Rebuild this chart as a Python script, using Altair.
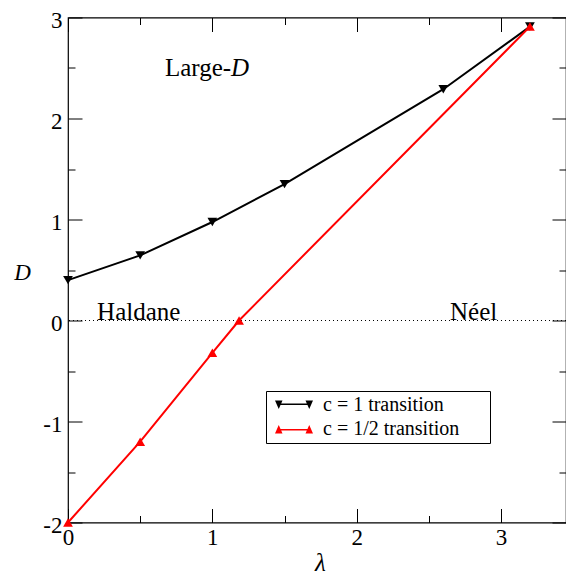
import altair as alt
import pandas as pd

# ---- data ----
c1_lambda = [0.0, 0.5, 1.0, 1.5, 2.6, 3.2]
c1_D = [0.40, 0.645, 0.975, 1.35, 2.29, 2.91]
c12_lambda = [0.0, 0.5, 1.0, 1.185, 3.2]
c12_D = [-2.0, -1.2, -0.32, 0.0, 2.91]
series_names = ["c = 1 transition", "c = 1/2 transition"]
series_colors = ["black", "red"]
zero_line = [0.0]

x_major = [0, 1, 2, 3]
x_minor = [0.5, 1.5, 2.5]
y_major = [-2, -1, 0, 1, 2, 3]
y_minor = [-1.5, -0.5, 0.5, 1.5, 2.5]

ann_right_text = ["Large-"]
ann_right_x = [1.13]
ann_right_y = [2.42]
ann_italic_text = ["D"]
ann_italic_x = [1.13]
ann_italic_y = [2.42]
ann_center_text = ["Haldane", "Néel"]
ann_center_x = [0.49, 2.81]
ann_center_y = [0.005, 0.005]

df = pd.concat([
    pd.DataFrame({"lam": c1_lambda, "D": c1_D, "series": series_names[0]}),
    pd.DataFrame({"lam": c12_lambda, "D": c12_D, "series": series_names[1]}),
], ignore_index=True)
df_zero = pd.DataFrame({"D": zero_line})
df_r = pd.DataFrame({"lam": ann_right_x, "D": ann_right_y, "t": ann_right_text})
df_i = pd.DataFrame({"lam": ann_italic_x, "D": ann_italic_y, "t": ann_italic_text})
df_c = pd.DataFrame({"lam": ann_center_x, "D": ann_center_y, "t": ann_center_text})

FONT = "Liberation Serif"
xscale = alt.Scale(domain=[0, 3.45], nice=False, zero=False)
yscale = alt.Scale(domain=[-2, 3], nice=False, zero=False)
cscale = alt.Scale(domain=series_names, range=series_colors)

common = dict(grid=False, domain=False, tickColor="black", tickWidth=1,
              labelColor="black", labelFont=FONT, labelFontSize=23,
              labelFlush=False, labelOverlap=False,
              labelExpr="'' + datum.value")

ax_b_major = alt.Axis(orient="bottom", values=x_major, offset=-14, tickSize=14,
                      labelPadding=4, title="λ", titleFont=FONT,
                      titleFontStyle="italic", titleFontWeight="normal",
                      titleFontSize=25, titleColor="black",
                      titleX=252, titleY=62, titleAlign="center",
                      titleBaseline="alphabetic", **common)
ax_l_major = alt.Axis(orient="left", values=y_major, offset=-14, tickSize=14,
                      labelPadding=6, labelOffset=2.5, title="D", titleFont=FONT,
                      titleFontStyle="italic", titleFontWeight="normal",
                      titleFontSize=23, titleColor="black", titleAngle=0,
                      titleX=-60, titleY=261.5, titleAlign="center",
                      titleBaseline="alphabetic", **common)
minor_common = dict(grid=False, domain=False, tickColor="black", tickWidth=1,
                    labels=False, title=None)
ax_t_major = alt.Axis(orient="top", values=x_major, offset=-14, tickSize=14, **minor_common)
ax_r_major = alt.Axis(orient="right", values=y_major, offset=-14, tickSize=14, **minor_common)
ax_b_minor = alt.Axis(orient="bottom", values=x_minor, offset=-7, tickSize=7, **minor_common)
ax_l_minor = alt.Axis(orient="left", values=y_minor, offset=-7, tickSize=7, **minor_common)
ax_t_minor = alt.Axis(orient="top", values=x_minor, offset=-7, tickSize=7, **minor_common)
ax_r_minor = alt.Axis(orient="right", values=y_minor, offset=-7, tickSize=7, **minor_common)


def X(axis):
    return alt.X("lam:Q", scale=xscale, axis=axis)


def Y(axis):
    return alt.Y("D:Q", scale=yscale, axis=axis)


# legend glyph: short line with a marker at each end (the trailing move-to only
# widens the legend frame, it draws nothing)
path_down = ("M-0.5,-0.45H0.25L-0.125,0.4Z M2.55,-0.45H3.3L2.925,0.4Z "
             "M-0.125,-0.15H2.925V0H-0.125Z M20.6,0")
path_up = ("M-0.5,0.45H0.25L-0.125,-0.4Z M2.55,0.45H3.3L2.925,-0.4Z "
           "M-0.125,0.15H2.925V0H-0.125Z M20.6,0")

leg = alt.Legend(orient="none", legendX=198, legendY=373.5, title=None,
                 strokeColor="black", fillColor="white", padding=4,
                 symbolSize=400, symbolStrokeWidth=0, symbolOpacity=1,
                 labelFont=FONT, labelFontSize=20, labelColor="black",
                 labelOffset=33, rowPadding=4, labelLimit=500)

rule = alt.Chart(df_zero).mark_rule(strokeDash=[1, 3], color="black", strokeWidth=1).encode(
    y=Y(None))

lines = alt.Chart(df).mark_line(strokeWidth=2).encode(
    x=X(ax_b_major), y=Y(ax_l_major),
    color=alt.Color("series:N", scale=cscale, legend=None))

pts_black = alt.Chart(df).transform_filter(
    alt.datum.series == series_names[0]
).mark_point(shape="triangle-down", filled=True, size=95, opacity=1).encode(
    x=X(ax_t_major), y=Y(ax_r_major),
    color=alt.Color("series:N", scale=cscale, legend=None))

pts_red = alt.Chart(df).transform_filter(
    alt.datum.series == series_names[1]
).mark_point(shape="triangle-up", filled=True, size=95, opacity=1).encode(
    x=X(ax_b_minor), y=Y(ax_l_minor),
    color=alt.Color("series:N", scale=cscale, legend=None))

legend_layer = alt.Chart(df).transform_filter("false").mark_point(
    filled=True, opacity=1).encode(
    x=X(ax_t_minor), y=Y(ax_r_minor),
    color=alt.Color("series:N", scale=cscale, legend=leg),
    shape=alt.Shape("series:N", scale=alt.Scale(domain=series_names, range=[path_down, path_up]),
                    legend=leg))

txt_r = alt.Chart(df_r).mark_text(align="right", baseline="alphabetic", font=FONT,
                                  fontSize=25, color="black").encode(
    x=X(None), y=Y(None), text="t:N")
txt_i = alt.Chart(df_i).mark_text(align="left", baseline="alphabetic", font=FONT,
                                  fontSize=25, fontStyle="italic", color="black").encode(
    x=X(None), y=Y(None), text="t:N")
txt_c = alt.Chart(df_c).mark_text(align="center", baseline="alphabetic", font=FONT,
                                  fontSize=25, color="black").encode(
    x=X(None), y=Y(None), text="t:N")

chart = alt.layer(
    rule, lines, pts_black, pts_red, legend_layer, txt_r, txt_i, txt_c
).resolve_scale(x="shared", y="shared").resolve_axis(
    x="independent", y="independent"
).resolve_legend(color="independent", shape="independent").properties(
    width=498, height=505,
    autosize=alt.AutoSizeParams(type="none"),
    padding={"left": 60, "top": 9.5, "right": 0, "bottom": 55.5},
    background="white",
).configure_view(stroke="black", strokeWidth=1.2)

chart.save("out.html", embed_options={"renderer": "svg", "actions": False})
